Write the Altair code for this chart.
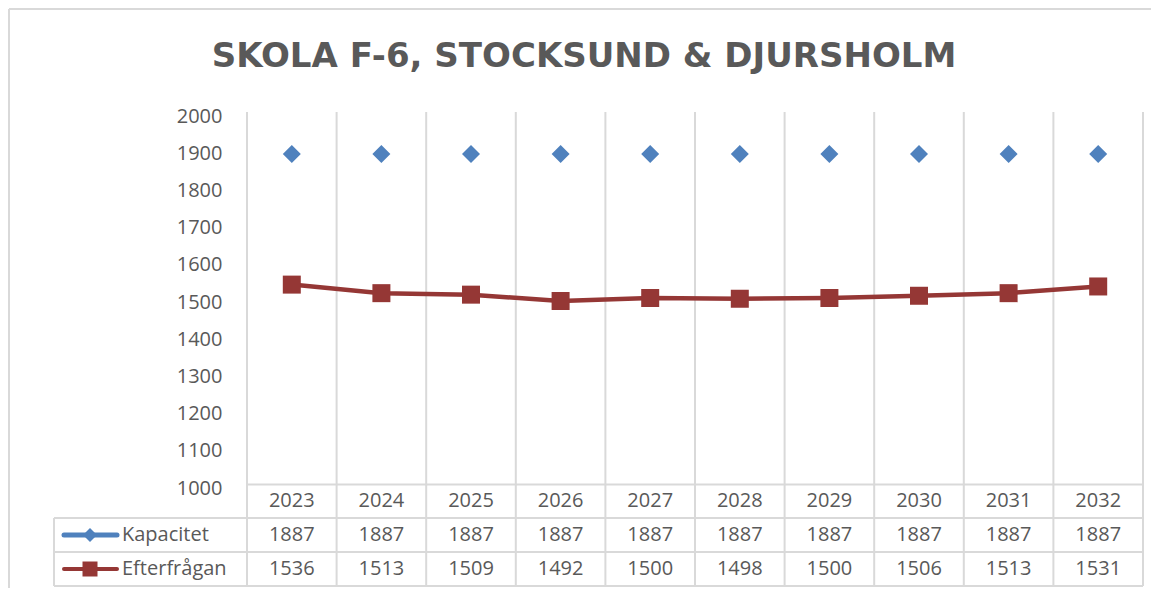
import altair as alt
import pandas as pd

# ---- data ----
years = [2023, 2024, 2025, 2026, 2027, 2028, 2029, 2030, 2031, 2032]
kapacitet = [1887, 1887, 1887, 1887, 1887, 1887, 1887, 1887, 1887, 1887]
efterfragan = [1536, 1513, 1509, 1492, 1500, 1498, 1500, 1506, 1513, 1531]
series_names = ["Kapacitet", "Efterfrågan"]
y_ticks = [1000, 1100, 1200, 1300, 1400, 1500, 1600, 1700, 1800, 1900, 2000]
title_text = "SKOLA F-6, STOCKSUND & DJURSHOLM"

df = pd.DataFrame({"year": years, "kap": kapacitet, "eft": efterfragan})
one = pd.DataFrame({"k": [0]})

# ---- styling ----
W, H = 896, 372
GRID = "#d9d9d9"
TXT = "#595959"
BLUE = "#4f81bd"
RED = "#953735"
FONT = "Open Sans"
FS = 20
ROW1, ROW2 = 423, 457          # table row centres
ROWLINES = [406, 440, 474]     # table row borders
LEG_L = -193                   # left edge of the legend column

xaxis = alt.Axis(title=None, domain=True, domainColor=GRID, domainWidth=2,
                 ticks=False, grid=False, labelAngle=0, labelFont=FONT,
                 labelFontSize=FS, labelColor=TXT, labelPadding=6)
xscale = alt.Scale(type="band", paddingInner=0, paddingOuter=0)
xenc = alt.X("year:O", scale=xscale, axis=xaxis)

yaxis = alt.Axis(title=None, domain=False, ticks=False, grid=False,
                 values=y_ticks, format="d", labelFont=FONT, labelFontSize=FS,
                 labelColor=TXT, labelPadding=25, labelOffset=4)
yscale = alt.Scale(domain=[1000, 2000], nice=False, zero=False)

base = alt.Chart(df)

# vertical grid / table column lines
vgrid = base.mark_rule(color=GRID, strokeWidth=2).encode(
    x=alt.X("year:O", bandPosition=0, scale=xscale, axis=xaxis),
    y=alt.value(0), y2=alt.value(ROWLINES[-1]))
right_edge = alt.Chart(one).mark_rule(color=GRID, strokeWidth=2).encode(
    x=alt.value(W), y=alt.value(0), y2=alt.value(ROWLINES[-1]))
hlines = alt.layer(*[
    alt.Chart(one).mark_rule(color=GRID, strokeWidth=2).encode(
        x=alt.value(LEG_L), x2=alt.value(W), y=alt.value(r))
    for r in ROWLINES])
leg_left = alt.Chart(one).mark_rule(color=GRID, strokeWidth=2).encode(
    x=alt.value(LEG_L), y=alt.value(ROWLINES[0]), y2=alt.value(ROWLINES[-1]))

# outer frame (top and left edges)
frame_top = alt.Chart(one).mark_rule(color=GRID, strokeWidth=2).encode(
    x=alt.value(-238), x2=alt.value(904), y=alt.value(-103))
frame_left = alt.Chart(one).mark_rule(color=GRID, strokeWidth=2).encode(
    x=alt.value(-238), y=alt.value(-103), y2=alt.value(476))

# data marks
kap_pts = base.mark_point(shape="diamond", filled=True, size=324, color=BLUE,
                          opacity=1).encode(
    x=xenc, y=alt.Y("kap:Q", scale=yscale, axis=yaxis))
eft_line = base.mark_line(color=RED, strokeWidth=4.5).encode(
    x=xenc, y=alt.Y("eft:Q", scale=yscale, axis=yaxis))
eft_pts = base.mark_point(shape="square", filled=True, size=324, color=RED,
                          opacity=1).encode(
    x=xenc, y=alt.Y("eft:Q", scale=yscale, axis=yaxis))

# data table values
kap_txt = base.mark_text(font=FONT, fontSize=FS, color=TXT, baseline="middle").encode(
    x=xenc, y=alt.value(ROW1), text="kap:Q")
eft_txt = base.mark_text(font=FONT, fontSize=FS, color=TXT, baseline="middle").encode(
    x=xenc, y=alt.value(ROW2), text="eft:Q")

# legend keys inside the table
kap_key_line = alt.Chart(one).mark_rule(color=BLUE, strokeWidth=5, strokeCap="round").encode(
    x=alt.value(-183), x2=alt.value(-130), y=alt.value(ROW1))
kap_key_pt = alt.Chart(one).mark_point(shape="diamond", filled=True, size=196,
                                       color=BLUE, opacity=1).encode(
    x=alt.value(-157), y=alt.value(ROW1))
eft_key_line = alt.Chart(one).mark_rule(color=RED, strokeWidth=4, strokeCap="round").encode(
    x=alt.value(-183), x2=alt.value(-130), y=alt.value(ROW2))
eft_key_pt = alt.Chart(one).mark_point(shape="square", filled=True, size=225,
                                       color=RED, opacity=1).encode(
    x=alt.value(-157), y=alt.value(ROW2))
kap_name = alt.Chart(one).mark_text(font=FONT, fontSize=FS, color=TXT, align="left",
                                    baseline="middle").encode(
    x=alt.value(-125), y=alt.value(ROW1), text=alt.value(series_names[0]))
eft_name = alt.Chart(one).mark_text(font=FONT, fontSize=FS, color=TXT, align="left",
                                    baseline="middle").encode(
    x=alt.value(-125), y=alt.value(ROW2), text=alt.value(series_names[1]))

# title
title = alt.Chart(one).mark_text(font="DejaVu Sans", fontWeight="bold", fontSize=34,
                                 color=TXT, align="center", baseline="middle").encode(
    x=alt.value(337), y=alt.value(-55), text=alt.value(title_text))

chart = alt.layer(
    frame_top, frame_left, vgrid, right_edge, hlines, leg_left,
    eft_line, eft_pts, kap_pts, kap_txt, eft_txt,
    kap_key_line, kap_key_pt, eft_key_line, eft_key_pt, kap_name, eft_name,
    title,
).properties(width=W, height=H, padding=0, background="white"
).configure_view(stroke=None)

chart.save("out.html", embed_options={"renderer": "svg", "actions": False})
